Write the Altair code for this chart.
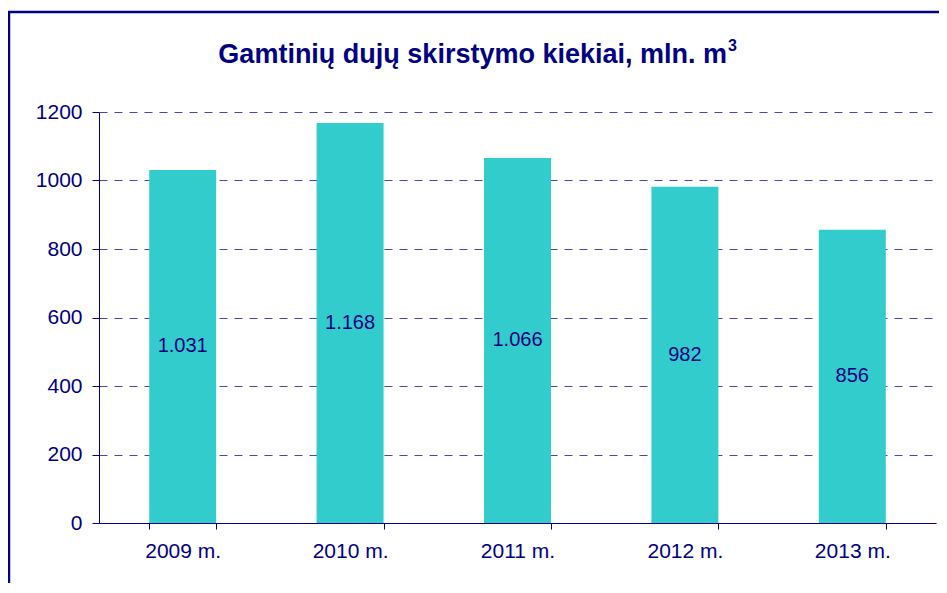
import altair as alt
import pandas as pd

years = ["2009 m.", "2010 m.", "2011 m.", "2012 m.", "2013 m."]
values = [1031, 1168, 1066, 982, 856]
y_ticks = [0, 200, 400, 600, 800, 1000, 1200]
title_main = "Gamtinių dujų skirstymo kiekiai, mln. m"
title_sup = "3"

NAVY = "#000080"
FONT = "Liberation Sans"
W, H = 837, 411

df = pd.DataFrame({"year": years, "value": values})

base = alt.Chart(df)

x_enc = alt.X(
    "year:N",
    sort=years,
    scale=alt.Scale(paddingInner=0.6, paddingOuter=0.3),
    axis=alt.Axis(
        title=None, labelAngle=0, tickBand="extent", grid=False,
        domainColor=NAVY, tickColor=NAVY, labelColor=NAVY,
        labelFont=FONT, labelFontSize=21, tickSize=6, labelPadding=11,
    ),
)
y_enc = alt.Y(
    "value:Q",
    scale=alt.Scale(domain=[0, 1200], nice=False),
    axis=alt.Axis(
        title=None, values=y_ticks, format="d", grid=True,
        gridColor="#1a1a90", gridDash=[8, 7], gridOpacity=0.8, gridWidth=1,
        domainColor=NAVY, tickColor=NAVY, labelColor=NAVY,
        labelFont=FONT, labelFontSize=21, tickSize=7, labelPadding=10,
    ),
)

bars = base.mark_bar(color="#33CCCC").encode(x=x_enc, y=y_enc)

labels = base.transform_calculate(
    mid="datum.value / 2",
    lbl="replace(format(datum.value, ','), ',', '.')",
).mark_text(font=FONT, fontSize=20, color=NAVY, baseline="middle").encode(
    x=alt.X("year:N", sort=years),
    y=alt.Y("mid:Q"),
    text="lbl:N",
)

title = alt.Chart(alt.Data(values=[{"t": title_main}])).mark_text(
    font=FONT, fontSize=27, fontWeight="bold", color=NAVY,
    align="right", baseline="alphabetic",
).encode(x=alt.value(628), y=alt.value(-49), text="t:N")

sup = alt.Chart(alt.Data(values=[{"t": title_sup}])).mark_text(
    font=FONT, fontSize=16, fontWeight="bold", color=NAVY,
    align="left", baseline="alphabetic",
).encode(x=alt.value(629), y=alt.value(-61), text="t:N")

frame = alt.Chart(alt.Data(values=[{"a": 1}])).mark_rect(
    fillOpacity=0, stroke=NAVY, strokeWidth=2.5,
).encode(
    x=alt.value(-90), x2=alt.value(W + 40),
    y=alt.value(-100), y2=alt.value(H + 120),
)

chart = alt.layer(bars, labels, title, sup, frame).properties(
    width=W, height=H,
    autosize=alt.AutoSizeParams(type="none"),
    padding={"left": 91, "top": 104, "right": 3, "bottom": 60},
    background="white",
).configure_view(stroke=None)

chart.save("out.html", embed_options={"renderer": "svg", "actions": False})
